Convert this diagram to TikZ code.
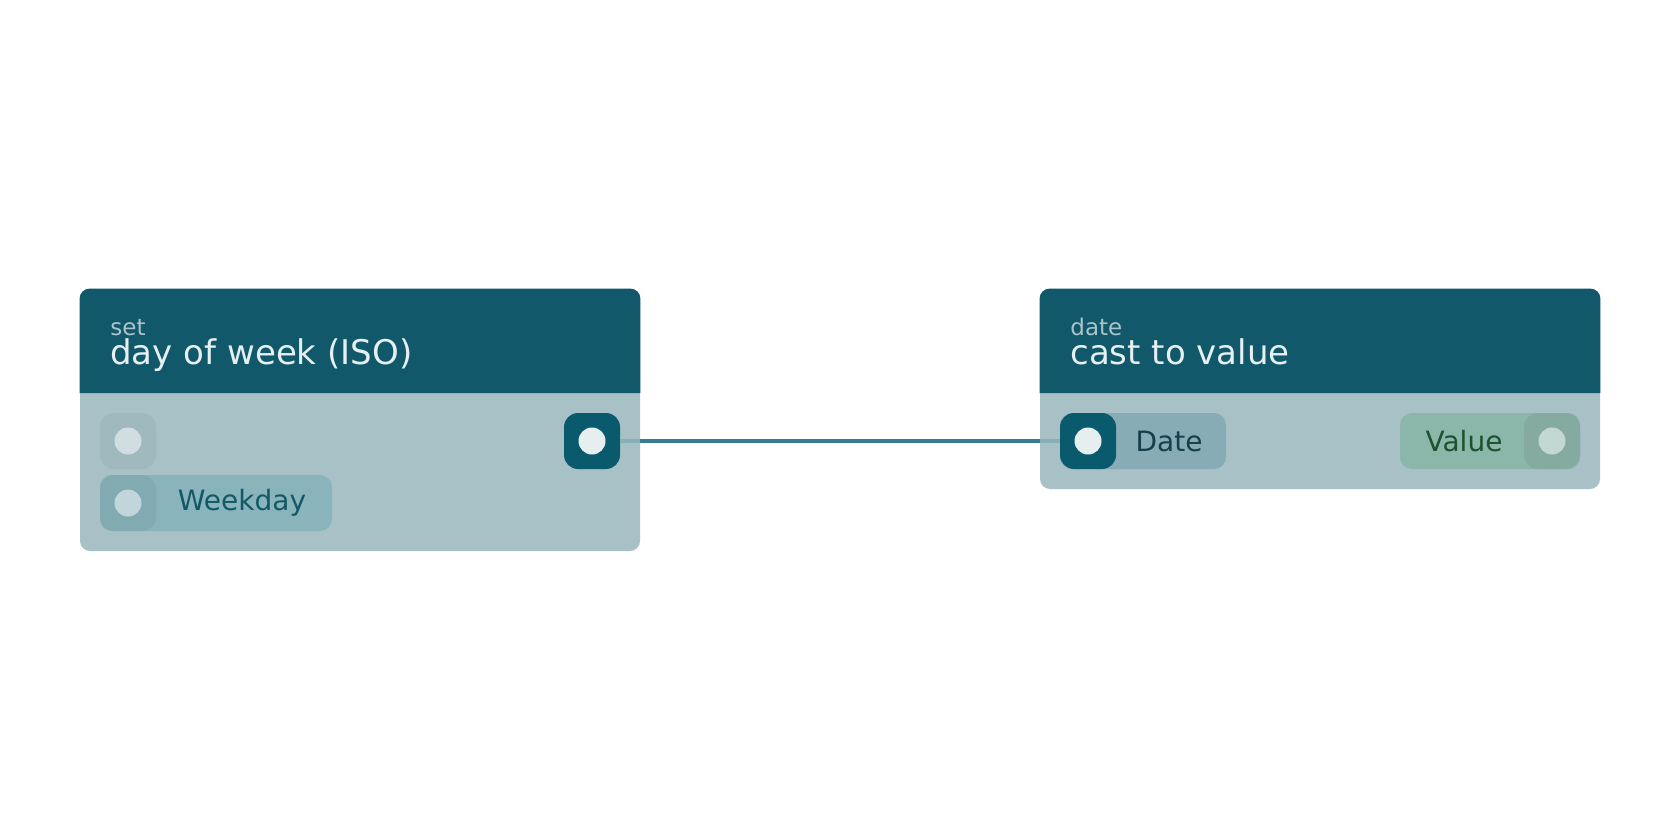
\documentclass[tikz,border=0pt]{standalone}
\usepackage{fontspec}
\setmainfont{DejaVu Sans}
\usepackage{tikz}
\usetikzlibrary{positioning}
\definecolor{headcol}{HTML}{10586A}
\definecolor{bodycol}{HTML}{A8C1C6}
\definecolor{subcol}{HTML}{A9C4CA}
\definecolor{titlecol}{HTML}{E6EFF1}
\definecolor{idlecol}{HTML}{A0B9BE}
\definecolor{idledot}{HTML}{D0DEE2}
\definecolor{inpill}{HTML}{89B4BB}
\definecolor{inport}{HTML}{82AAB1}
\definecolor{indot}{HTML}{C1D6DA}
\definecolor{intext}{HTML}{135866}
\definecolor{linkcol}{HTML}{0A5A6E}
\definecolor{linkdot}{HTML}{E6EFF0}
\definecolor{datepill}{HTML}{87ACB5}
\definecolor{datetext}{HTML}{143F4C}
\definecolor{valpill}{HTML}{8BB6AA}
\definecolor{valport}{HTML}{85ABA0}
\definecolor{valdot}{HTML}{C3D7D3}
\definecolor{valtext}{HTML}{1B5230}
\definecolor{wirecol}{HTML}{357E8E}
\definecolor{wirein}{HTML}{89B0B8}
\tikzstyle{Card}=[rectangle, rounded corners=5pt, minimum width=280pt, fill=bodycol, inner sep=0pt]
\tikzstyle{Port}=[rectangle, rounded corners=7pt, minimum width=28pt, minimum height=28pt, inner sep=0pt]
\tikzstyle{Pill}=[rectangle, rounded corners=6pt, minimum height=28pt, inner sep=0pt]
\tikzstyle{Dot}=[circle, minimum size=13.5pt, inner sep=0pt]
\tikzstyle{Label}=[font=\fontsize{14}{16}\selectfont, inner sep=0pt]

\begin{document}
\begin{tikzpicture}[x=0.5pt, y=-0.5pt]
    \useasboundingbox[fill=white] (0,0) rectangle (1680,840);
    \path
    (360,420) node[Card, minimum height=131pt] (setcard) {}
    (1320,389) node[Card, minimum height=100pt] (datecard) {};

    % headers
    \fill[headcol] (setcard.west |- 0,393) [rounded corners=5pt] -- (setcard.north west) -- (setcard.north east) [sharp corners] -- (setcard.east |- 0,393) -- cycle;
    \fill[headcol] (datecard.west |- 0,393) [rounded corners=5pt] -- (datecard.north west) -- (datecard.north east) [sharp corners] -- (datecard.east |- 0,393) -- cycle;
    \path (110,335) node[anchor=base west, inner sep=0pt, text=subcol, font=\fontsize{11.5}{13}\selectfont] (setkind) {set}
    (110,364) node[anchor=base west, inner sep=0pt, text=titlecol, font=\fontsize{17}{19}\selectfont] (settitle) {day of week (ISO)}
    (1070,335) node[anchor=base west, inner sep=0pt, text=subcol, font=\fontsize{11.5}{13}\selectfont] (datekind) {date}
    (1070,364) node[anchor=base west, inner sep=0pt, text=titlecol, font=\fontsize{17}{19}\selectfont] (datetitle) {cast to value};

    % ports
    \path
    (128,441) node[Port, fill=idlecol] (idleport) {}
    (216,503) node[Pill, fill=inpill, minimum width=116pt] (weekpill) {}
    (128,503) node[Port, fill=inport] (weekport) {}
    (592,441) node[Port, fill=linkcol] (outport) {}
    (1143,441) node[Pill, fill=datepill, minimum width=83pt] (datepill) {}
    (1490,441) node[Pill, fill=valpill, minimum width=90pt] (valpill) {}
    (1552,441) node[Port, fill=valport] (valport) {};

    \draw[wirein, line width=1.75pt] (outport) -- (datepill.west);
    \draw[wirecol, line width=1.75pt] (setcard.east |- outport) -- (datecard.west |- outport);
    \path (1088,441) node[Port, fill=linkcol] (dateport) {};

    \path
    (idleport) node[Dot, fill=idledot] {}
    (weekport) node[Dot, fill=indot] {}
    (outport) node[Dot, fill=linkdot] {}
    (dateport) node[Dot, fill=linkdot] {}
    (valport) node[Dot, fill=valdot] {};

    \path
    (242,503) node[Label, text=intext] (weeklabel) {Weekday}
    (1169,441) node[Label, text=datetext] (datelabel) {Date}
    (1464,441) node[Label, text=valtext] (vallabel) {Value};
\end{tikzpicture}
\end{document}
